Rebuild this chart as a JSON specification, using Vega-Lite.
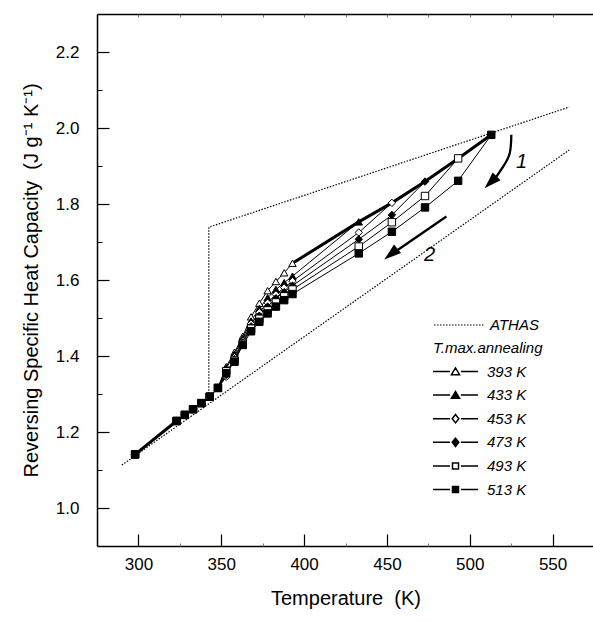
{
  "$schema": "https://vega.github.io/schema/vega-lite/v6.json",
  "width": 497,
  "height": 532,
  "autosize": {"type": "none"},
  "padding": {"left": 97, "top": 14, "right": 0, "bottom": 76},
  "config": {
    "font": "Liberation Sans",
    "view": {"stroke": null},
    "axis": {"grid": false, "domainColor": "black", "tickColor": "black", "labelColor": "black", "titleColor": "black", "labelFont": "Liberation Sans", "titleFont": "Liberation Sans", "titleFontWeight": "normal"},
    "legend": {"padding": 0}
  },
  "datasets": {
    "athas": [
      {"g": "upper", "k": "ATHAS", "o": 1, "T": 342.5, "cp": 1.285},
      {"g": "upper", "k": "ATHAS", "o": 2, "T": 342.5, "cp": 1.739},
      {"g": "upper", "k": "ATHAS", "o": 3, "T": 560, "cp": 2.055},
      {"g": "lower", "k": "ATHAS", "o": 1, "T": 290, "cp": 1.113},
      {"g": "lower", "k": "ATHAS", "o": 2, "T": 560, "cp": 1.942}
    ],
    "thick": [
      {"seg": "a", "T": 298, "cp": 1.141},
      {"seg": "a", "T": 323, "cp": 1.229},
      {"seg": "b", "T": 393, "cp": 1.644},
      {"seg": "b", "T": 433, "cp": 1.753},
      {"seg": "b", "T": 453, "cp": 1.803},
      {"seg": "b", "T": 473, "cp": 1.859},
      {"seg": "b", "T": 493, "cp": 1.92},
      {"seg": "b", "T": 513, "cp": 1.982}
    ],
    "pts": [
      {"s": "393 K", "T": 298, "cp": 1.141}, {"s": "393 K", "T": 323, "cp": 1.229}, {"s": "393 K", "T": 328, "cp": 1.245}, {"s": "393 K", "T": 333, "cp": 1.26}, {"s": "393 K", "T": 338, "cp": 1.276}, {"s": "393 K", "T": 343, "cp": 1.293}, {"s": "393 K", "T": 348, "cp": 1.316},
      {"s": "393 K", "T": 353, "cp": 1.372}, {"s": "393 K", "T": 358, "cp": 1.41}, {"s": "393 K", "T": 363, "cp": 1.452}, {"s": "393 K", "T": 368, "cp": 1.503}, {"s": "393 K", "T": 373, "cp": 1.539}, {"s": "393 K", "T": 378, "cp": 1.572}, {"s": "393 K", "T": 383, "cp": 1.596}, {"s": "393 K", "T": 388, "cp": 1.619}, {"s": "393 K", "T": 393, "cp": 1.644},

      {"s": "433 K", "T": 298, "cp": 1.141}, {"s": "433 K", "T": 323, "cp": 1.229}, {"s": "433 K", "T": 328, "cp": 1.245}, {"s": "433 K", "T": 333, "cp": 1.26}, {"s": "433 K", "T": 338, "cp": 1.276}, {"s": "433 K", "T": 343, "cp": 1.293}, {"s": "433 K", "T": 348, "cp": 1.316},
      {"s": "433 K", "T": 353, "cp": 1.368}, {"s": "433 K", "T": 358, "cp": 1.405}, {"s": "433 K", "T": 363, "cp": 1.447}, {"s": "433 K", "T": 368, "cp": 1.492}, {"s": "433 K", "T": 373, "cp": 1.525}, {"s": "433 K", "T": 378, "cp": 1.553}, {"s": "433 K", "T": 383, "cp": 1.575}, {"s": "433 K", "T": 388, "cp": 1.593}, {"s": "433 K", "T": 393, "cp": 1.61},
      {"s": "433 K", "T": 433, "cp": 1.753},

      {"s": "453 K", "T": 298, "cp": 1.141}, {"s": "453 K", "T": 323, "cp": 1.229}, {"s": "453 K", "T": 328, "cp": 1.245}, {"s": "453 K", "T": 333, "cp": 1.26}, {"s": "453 K", "T": 338, "cp": 1.276}, {"s": "453 K", "T": 343, "cp": 1.293}, {"s": "453 K", "T": 348, "cp": 1.316},
      {"s": "453 K", "T": 353, "cp": 1.345}, {"s": "453 K", "T": 358, "cp": 1.397}, {"s": "453 K", "T": 363, "cp": 1.44}, {"s": "453 K", "T": 368, "cp": 1.485}, {"s": "453 K", "T": 373, "cp": 1.515}, {"s": "453 K", "T": 378, "cp": 1.54}, {"s": "453 K", "T": 383, "cp": 1.562}, {"s": "453 K", "T": 388, "cp": 1.58}, {"s": "453 K", "T": 393, "cp": 1.597},
      {"s": "453 K", "T": 433, "cp": 1.725}, {"s": "453 K", "T": 453, "cp": 1.803},

      {"s": "473 K", "T": 298, "cp": 1.141}, {"s": "473 K", "T": 323, "cp": 1.229}, {"s": "473 K", "T": 328, "cp": 1.245}, {"s": "473 K", "T": 333, "cp": 1.26}, {"s": "473 K", "T": 338, "cp": 1.276}, {"s": "473 K", "T": 343, "cp": 1.293}, {"s": "473 K", "T": 348, "cp": 1.316},
      {"s": "473 K", "T": 353, "cp": 1.35}, {"s": "473 K", "T": 358, "cp": 1.392}, {"s": "473 K", "T": 363, "cp": 1.436}, {"s": "473 K", "T": 368, "cp": 1.478}, {"s": "473 K", "T": 373, "cp": 1.506}, {"s": "473 K", "T": 378, "cp": 1.53}, {"s": "473 K", "T": 383, "cp": 1.552}, {"s": "473 K", "T": 388, "cp": 1.568}, {"s": "473 K", "T": 393, "cp": 1.585},
      {"s": "473 K", "T": 433, "cp": 1.707}, {"s": "473 K", "T": 453, "cp": 1.771}, {"s": "473 K", "T": 473, "cp": 1.859},

      {"s": "493 K", "T": 298, "cp": 1.141}, {"s": "493 K", "T": 323, "cp": 1.229}, {"s": "493 K", "T": 328, "cp": 1.245}, {"s": "493 K", "T": 333, "cp": 1.26}, {"s": "493 K", "T": 338, "cp": 1.276}, {"s": "493 K", "T": 343, "cp": 1.293}, {"s": "493 K", "T": 348, "cp": 1.316},
      {"s": "493 K", "T": 353, "cp": 1.36}, {"s": "493 K", "T": 358, "cp": 1.388}, {"s": "493 K", "T": 363, "cp": 1.432}, {"s": "493 K", "T": 368, "cp": 1.472}, {"s": "493 K", "T": 373, "cp": 1.498}, {"s": "493 K", "T": 378, "cp": 1.52}, {"s": "493 K", "T": 383, "cp": 1.541}, {"s": "493 K", "T": 388, "cp": 1.557}, {"s": "493 K", "T": 393, "cp": 1.575},
      {"s": "493 K", "T": 433, "cp": 1.688}, {"s": "493 K", "T": 453, "cp": 1.752}, {"s": "493 K", "T": 473, "cp": 1.821}, {"s": "493 K", "T": 493, "cp": 1.92},

      {"s": "513 K", "T": 298, "cp": 1.141}, {"s": "513 K", "T": 323, "cp": 1.229}, {"s": "513 K", "T": 328, "cp": 1.245}, {"s": "513 K", "T": 333, "cp": 1.26}, {"s": "513 K", "T": 338, "cp": 1.276}, {"s": "513 K", "T": 343, "cp": 1.293}, {"s": "513 K", "T": 348, "cp": 1.316},
      {"s": "513 K", "T": 353, "cp": 1.355}, {"s": "513 K", "T": 358, "cp": 1.385}, {"s": "513 K", "T": 363, "cp": 1.429}, {"s": "513 K", "T": 368, "cp": 1.465}, {"s": "513 K", "T": 373, "cp": 1.49}, {"s": "513 K", "T": 378, "cp": 1.512}, {"s": "513 K", "T": 383, "cp": 1.53}, {"s": "513 K", "T": 388, "cp": 1.547}, {"s": "513 K", "T": 393, "cp": 1.563},
      {"s": "513 K", "T": 433, "cp": 1.67}, {"s": "513 K", "T": 453, "cp": 1.727}, {"s": "513 K", "T": 473, "cp": 1.791}, {"s": "513 K", "T": 493, "cp": 1.861}, {"s": "513 K", "T": 513, "cp": 1.982}
    ],
    "arrows": [
      {"a": "1", "o": 1, "T": 525.1, "cp": 1.982},
      {"a": "1", "o": 2, "T": 524.1, "cp": 1.933},
      {"a": "1", "o": 3, "T": 520.1, "cp": 1.898},
      {"a": "1", "o": 4, "T": 516.1, "cp": 1.872},
      {"a": "2", "o": 1, "T": 485.9, "cp": 1.767},
      {"a": "2", "o": 2, "T": 456.5, "cp": 1.679}
    ],
    "heads": [
      {"a": "1", "T": 512.6, "cp": 1.857, "ang": 225},
      {"a": "2", "T": 452.4, "cp": 1.668, "ang": 231}
    ],
    "labels": [
      {"t": "1", "T": 531.2, "cp": 1.911},
      {"t": "2", "T": 475.8, "cp": 1.666}
    ]
  },
  "layer": [
    {
      "data": {"name": "athas"},
      "mark": {"type": "line", "strokeWidth": 1.2, "color": "black"},
      "encoding": {
        "x": {"field": "T", "type": "quantitative", "scale": {"domain": [275, 575], "nice": false, "zero": false},
          "axis": {"orient": "bottom", "values": [300, 350, 400, 450, 500, 550], "tickSize": -12, "tickWidth": 1.2, "labelPadding": 22, "labelFontSize": 17, "title": "Temperature\u00a0 (K)", "titleFontSize": 20, "titlePadding": 16, "domainWidth": 1.3}},
        "y": {"field": "cp", "type": "quantitative", "scale": {"domain": [0.9, 2.3], "nice": false, "zero": false},
          "axis": {"orient": "left", "values": [1.0, 1.2, 1.4, 1.6, 1.8, 2.0, 2.2], "format": ".1f", "tickSize": -12, "tickWidth": 1.2, "labelPadding": 30, "labelFontSize": 17, "title": "Reversing Specific Heat Capacity\u00a0 (J g\u207b\u00b9 K\u207b\u00b9)", "titleFontSize": 20, "titlePadding": 14, "domainWidth": 1.5}},
        "detail": {"field": "g"},
        "order": {"field": "o", "type": "quantitative"},
        "strokeDash": {"field": "k", "type": "nominal", "scale": {"range": [[1.5, 1.5]]},
          "legend": {"title": null, "orient": "none", "legendX": 336, "legendY": 285, "symbolType": "stroke", "symbolSize": 2500, "symbolStrokeWidth": 1.2, "symbolStrokeColor": "black", "labelFontSize": 15, "labelFontStyle": "italic", "labelColor": "black", "labelOffset": 5}}
      }
    },
    {
      "data": {"name": "pts"},
      "mark": {"type": "line", "strokeWidth": 1, "color": "black"},
      "encoding": {
        "x": {"field": "T", "type": "quantitative", "axis": {"orient": "bottom", "values": [325, 375, 425, 475, 525], "tickSize": -3, "labels": false, "domain": false, "title": null, "tickColor": "#777"}},
        "y": {"field": "cp", "type": "quantitative", "axis": {"orient": "left", "values": [1.1, 1.3, 1.5, 1.7, 1.9, 2.1], "tickSize": -5, "labels": false, "domain": false, "title": null}},
        "detail": {"field": "s"}
      }
    },
    {
      "data": {"name": "thick"},
      "mark": {"type": "line", "strokeWidth": 3, "color": "black"},
      "encoding": {
        "x": {"field": "T", "type": "quantitative", "axis": {"orient": "top", "values": [300, 325, 350, 375, 400, 425, 450, 475, 500, 525, 550], "tickSize": -3, "labels": false, "title": null, "tickColor": "#777", "domainWidth": 1.5}},
        "y": {"field": "cp", "type": "quantitative", "axis": null},
        "detail": {"field": "seg"}
      }
    },
    {
      "data": {"name": "pts"},
      "mark": {"type": "point", "filled": true, "stroke": "black", "strokeWidth": 1, "opacity": 1, "size": 55},
      "encoding": {
        "x": {"field": "T", "type": "quantitative", "axis": null},
        "y": {"field": "cp", "type": "quantitative", "axis": null},
        "shape": {"field": "s", "type": "nominal", "scale": {"domain": ["393 K", "433 K", "453 K", "473 K", "493 K", "513 K"], "range": ["triangle-up", "triangle-up", "diamond", "diamond", "square", "square"]}, "legend": null},
        "fill": {"field": "s", "type": "nominal", "scale": {"domain": ["393 K", "433 K", "453 K", "473 K", "493 K", "513 K"], "range": ["white", "black", "white", "black", "white", "black"]}, "legend": null}
      }
    },
    {
      "data": {"name": "pts"},
      "transform": [{"filter": "datum.T > 1000"}],
      "mark": {"type": "point", "filled": true, "stroke": "black", "strokeWidth": 1, "opacity": 1, "size": 36},
      "encoding": {
        "x": {"field": "T", "type": "quantitative", "axis": null},
        "y": {"field": "cp", "type": "quantitative", "axis": null},
        "shape": {"field": "s", "type": "nominal", "scale": {"domain": ["393 K", "433 K", "453 K", "473 K", "493 K", "513 K"],
            "range": ["M-7.5,0H-1.8M1.8,0H7.5M-1.35,1.05L0,-1.2L1.35,1.05Z", "M-7.5,0H-1.8M1.8,0H7.5M-1.35,1.05L0,-1.2L1.35,1.05Z", "M-7.5,0H-1.8M1.8,0H7.5M0,-1.4L1.1,0L0,1.4L-1.1,0Z", "M-7.5,0H-1.8M1.8,0H7.5M0,-1.4L1.1,0L0,1.4L-1.1,0Z", "M-7.5,0H-1.8M1.8,0H7.5M-1,-1H1V1H-1Z", "M-7.5,0H-1.8M1.8,0H7.5M-1,-1H1V1H-1Z"]},
          "legend": {"title": "T.max.annealing", "orient": "none", "legendX": 336, "legendY": 327, "titleFontStyle": "italic", "titleFontWeight": "normal", "titleFontSize": 15, "titleColor": "black", "titlePadding": 8, "labelFontSize": 15, "labelFontStyle": "italic", "labelColor": "black", "symbolSize": 36, "symbolOffset": 15, "labelOffset": 24, "rowPadding": 7.6}},
        "fill": {"field": "s", "type": "nominal", "scale": {"domain": ["393 K", "433 K", "453 K", "473 K", "493 K", "513 K"], "range": ["white", "black", "white", "black", "white", "black"]},
          "legend": {"title": "T.max.annealing", "orient": "none", "legendX": 336, "legendY": 327, "titleFontStyle": "italic", "titleFontWeight": "normal", "titleFontSize": 15, "titleColor": "black", "titlePadding": 8, "labelFontSize": 15, "labelFontStyle": "italic", "labelColor": "black", "symbolSize": 36, "symbolOffset": 15, "labelOffset": 24, "rowPadding": 7.6}}
      }
    },
    {
      "data": {"name": "arrows"},
      "mark": {"type": "line", "strokeWidth": 2.3, "color": "black", "interpolate": "natural"},
      "encoding": {
        "x": {"field": "T", "type": "quantitative", "axis": null},
        "y": {"field": "cp", "type": "quantitative", "axis": null},
        "detail": {"field": "a"},
        "order": {"field": "o", "type": "quantitative"}
      }
    },
    {
      "data": {"name": "heads"},
      "mark": {"type": "point", "filled": true, "color": "black", "opacity": 1, "shape": "M0,-1L0.65,1L-0.65,1Z", "size": 290},
      "encoding": {
        "x": {"field": "T", "type": "quantitative", "axis": null},
        "y": {"field": "cp", "type": "quantitative", "axis": null},
        "angle": {"field": "ang", "type": "quantitative", "scale": null}
      }
    },
    {
      "data": {"name": "labels"},
      "mark": {"type": "text", "fontSize": 20, "fontStyle": "italic", "color": "black"},
      "encoding": {
        "x": {"field": "T", "type": "quantitative", "axis": null},
        "y": {"field": "cp", "type": "quantitative", "axis": null},
        "text": {"field": "t"}
      }
    }
  ],
  "resolve": {"axis": {"x": "independent", "y": "independent"}, "scale": {"shape": "independent", "fill": "independent"}}
}
